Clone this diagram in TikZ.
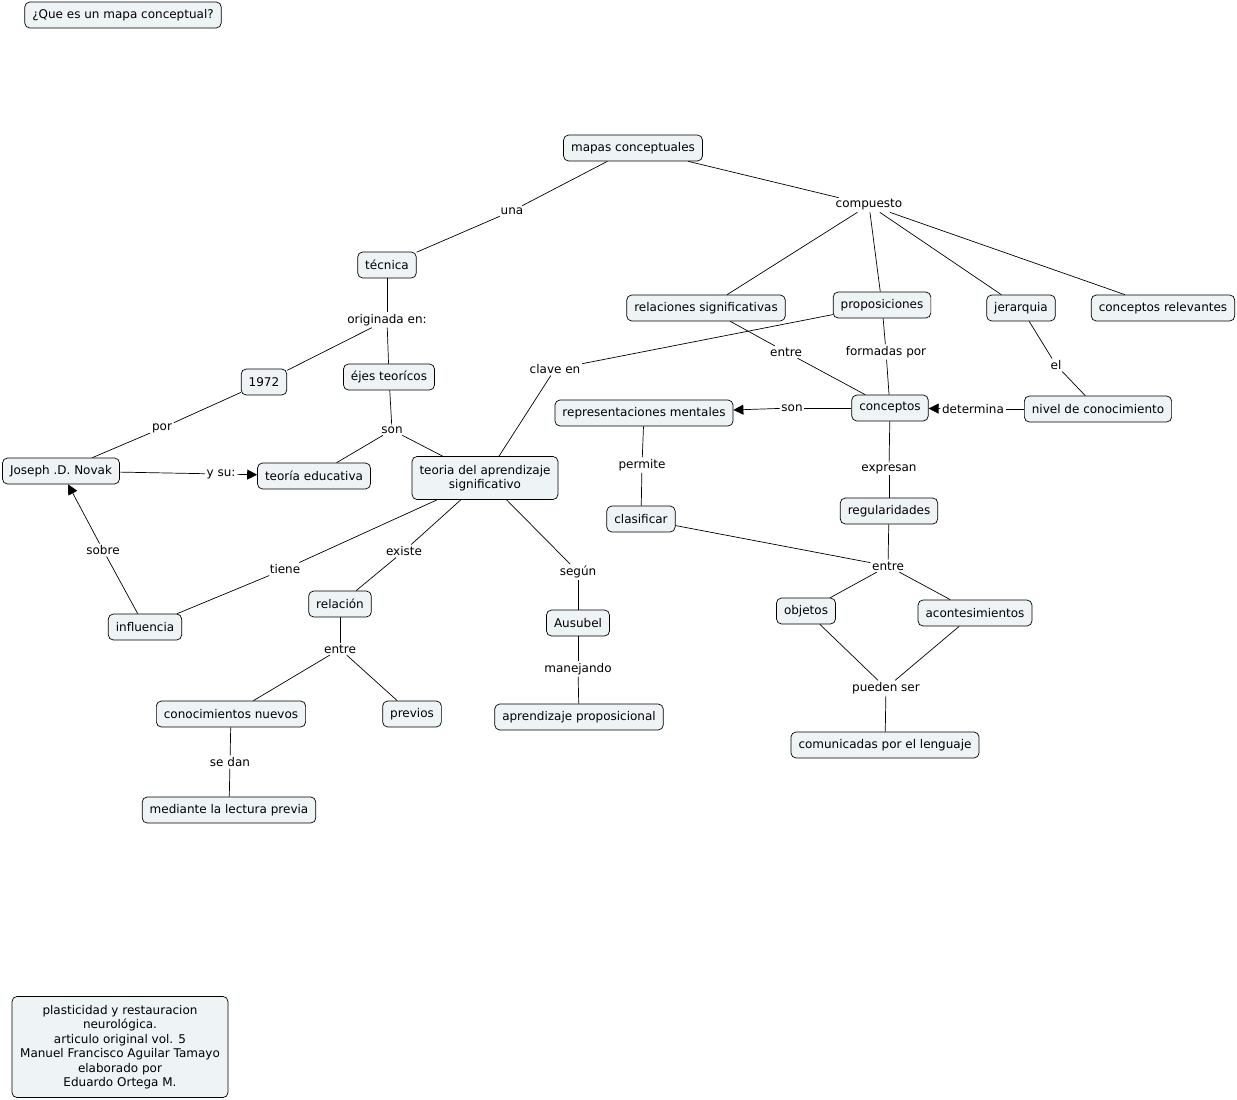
\documentclass[tikz,border=0pt]{standalone}
\usepackage{fontspec}
\setmainfont{DejaVu Sans}
\usetikzlibrary{arrows.meta}
\definecolor{cfill}{RGB}{238,244,246}
\tikzset{
  cpt/.style={draw, rounded corners=5pt, fill=cfill, inner xsep=7.5pt, inner ysep=0pt,
    minimum height=26pt, align=center, font=\fontsize{12}{14.5}\selectfont},
  lnk/.style={inner sep=1.5pt, font=\fontsize{12}{14.5}\selectfont},
  toarr/.style={-{Triangle[length=10pt,width=10pt]}}
}
\begin{document}
\begin{tikzpicture}[x=1pt,y=-1pt,line width=.7pt]
\useasboundingbox (0,0) rectangle (1237,1100);
% concepts
\path (123,15) node[cpt] (q) {¿Que es un mapa conceptual?}
 (633,148) node[cpt] (mc) {mapas conceptuales}
 (387,265) node[cpt] (tec) {técnica}
 (706,308) node[cpt] (rs) {relaciones significativas}
 (882,305) node[cpt] (prop) {proposiciones}
 (1021,308) node[cpt] (jer) {jerarquia}
 (1163,308) node[cpt] (cr) {conceptos relevantes}
 (264,382) node[cpt] (y72) {1972}
 (389,377) node[cpt] (ejes) {éjes teorícos}
 (644,413) node[cpt] (rm) {representaciones mentales}
 (890,408) node[cpt] (conc) {conceptos}
 (1098,409) node[cpt] (niv) {nivel de conocimiento}
 (61,471) node[cpt] (jdn) {Joseph .D. Novak}
 (314,476) node[cpt] (te) {teoría educativa}
 (485,478) node[cpt,minimum height=43pt] (tas) {teoria del aprendizaje\\significativo}
 (641,519) node[cpt] (cla) {clasificar}
 (889,511) node[cpt] (reg) {regularidades}
 (145,627) node[cpt] (inf) {influencia}
 (340,604) node[cpt] (rela) {relación}
 (578,623) node[cpt] (aus) {Ausubel}
 (806,611) node[cpt] (obj) {objetos}
 (975,613) node[cpt] (acon) {acontesimientos}
 (231,714) node[cpt] (cn) {conocimientos nuevos}
 (412,714) node[cpt] (prev) {previos}
 (579,717) node[cpt] (ap) {aprendizaje proposicional}
 (885,745) node[cpt] (cpl) {comunicadas por el lenguaje}
 (229,810) node[cpt] (mlp) {mediante la lectura previa}
 (120,1047) node[cpt,minimum height=101pt,minimum width=216pt] (nota) {plasticidad y restauracion\\neurológica.\\articulo original vol. 5\\Manuel Francisco Aguilar Tamayo\\elaborado por\\Eduardo Ortega M.};
% linking phrases
\path (512,211) node[lnk] (una) {una}
 (869,205) node[lnk] (comp) {compuesto}
 (387,320) node[lnk] (orig) {originada en:}
 (555,369) node[lnk] (clave) {clave en}
 (786,352) node[lnk] (entA) {entre}
 (886,352) node[lnk] (form) {formadas por}
 (1056,365) node[lnk] (el) {el}
 (162,428) node[lnk] (por) {por}
 (392,430) node[lnk] (sonA) {son}
 (792,408) node[lnk] (sonB) {son}
 (973,409) node[lnk] (det) {determina}
 (221,474) node[lnk] (ysu) {y su:}
 (642,465) node[lnk] (perm) {permite}
 (889,469) node[lnk] (expr) {expresan}
 (285,569) node[lnk] (tiene) {tiene}
 (404,551) node[lnk] (exis) {existe}
 (578,572) node[lnk] (seg) {según}
 (103,550) node[lnk] (sobre) {sobre}
 (888,566) node[lnk] (entB) {entre}
 (340,649) node[lnk] (entC) {entre}
 (578,669) node[lnk] (man) {manejando}
 (886,688) node[lnk] (pued) {pueden ser}
 (230,762) node[lnk] (sedan) {se dan};
% connectors
\foreach \a/\b in {mc/una, una/tec, mc/comp, comp/rs, comp/prop, comp/jer, comp/cr,
  tec/orig, orig/y72, orig/ejes, y72/por, por/jdn, ejes/sonA, sonA/te, sonA/tas,
  jdn/ysu, prop/clave, clave/tas, rs/entA, entA/conc, prop/form, form/conc,
  jer/el, el/niv, conc/sonB, niv/det, rm/perm, perm/cla, conc/expr, expr/reg,
  reg/entB, cla/entB, entB/obj, entB/acon, tas/tiene, tiene/inf, tas/exis, exis/rela,
  tas/seg, seg/aus, inf/sobre, rela/entC, entC/cn, entC/prev, aus/man, man/ap,
  obj/pued, acon/pued, pued/cpl, cn/sedan, sedan/mlp}
  \draw (\a) -- (\b);
\foreach \a/\b in {sonB/rm, det/conc, ysu/te, sobre/jdn}
  \draw[toarr] (\a) -- (\b);
\end{tikzpicture}
\end{document}
